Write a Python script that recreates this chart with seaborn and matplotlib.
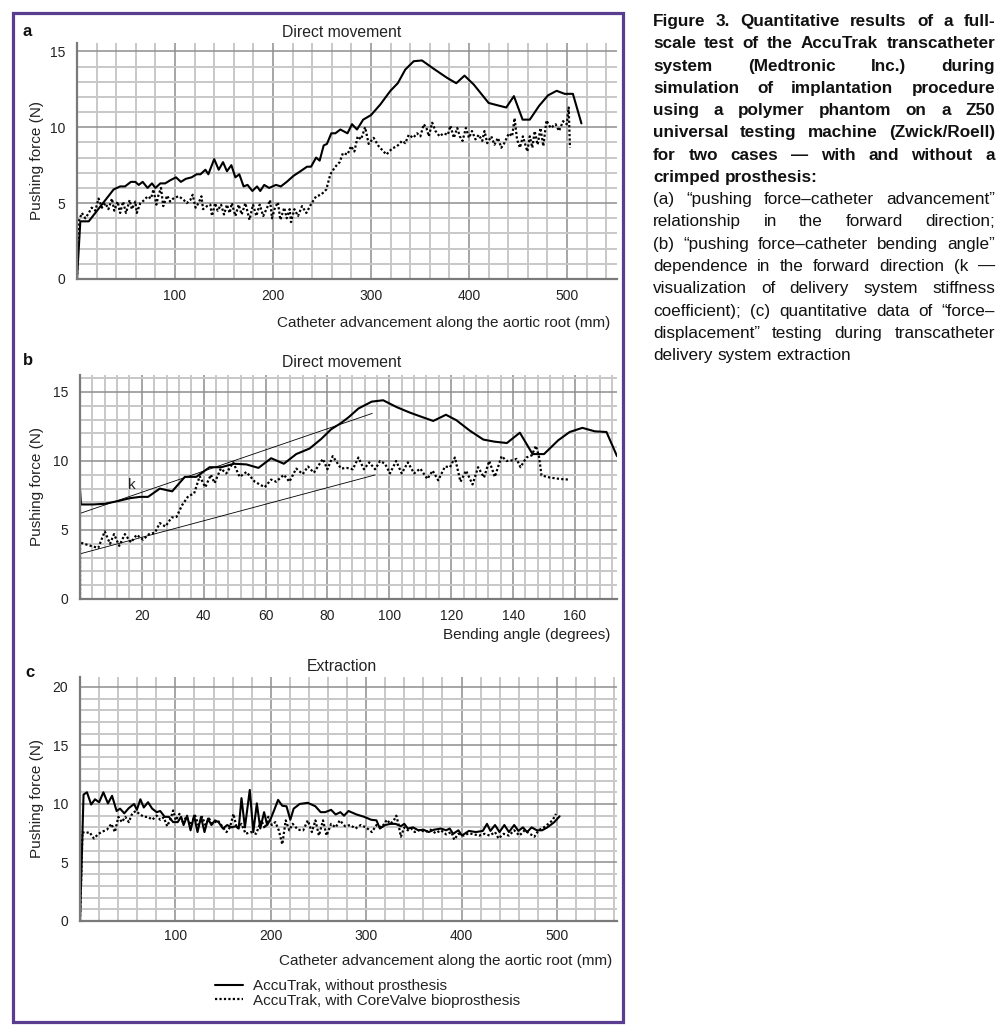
import matplotlib
matplotlib.use('Agg')
import matplotlib.pyplot as plt
import seaborn as sns
from matplotlib.ticker import MultipleLocator, FixedLocator
from matplotlib.patches import Rectangle

# ---------------- data ----------------
# Panel a: pushing force vs catheter advancement (forward)
a_solid_x = [0, 3.4, 12, 37.4, 44, 49, 55, 59.5, 63, 67, 72, 76.5, 80, 85, 90, 95, 101, 106, 111, 117,
             122, 126, 131, 134, 140, 144.6, 149, 153, 157.5, 161.6, 165.6, 170, 174, 178.9, 183.7, 187, 191, 196, 203, 208,
             214, 221, 228, 234.7, 238.8, 244, 247.6, 251.7, 255, 259.5, 263.6, 268.7, 276, 280.6, 285.7, 292, 300, 309.5, 319.8, 327.3,
             335, 343.6, 352, 364, 377.7, 387, 395.4, 405, 420, 428.8, 438, 445.8, 454.7, 462, 471.4, 480.6, 489.4, 497.6, 506, 514.7]
a_solid_y = [0, 3.8, 3.8, 5.9, 6.1, 6.1, 6.4, 6.4, 6.2, 6.4, 6.0, 6.3, 6.0, 6.3, 6.3, 6.5, 6.7, 6.4, 6.6, 6.7,
             6.9, 6.9, 7.2, 6.9, 7.9, 7.2, 7.7, 7.1, 7.5, 6.7, 6.9, 6.1, 6.2, 5.8, 6.1, 5.8, 6.2, 6.0, 6.2, 6.1,
             6.4, 6.8, 7.1, 7.4, 7.4, 8.0, 7.8, 8.8, 8.9, 9.6, 9.6, 9.85, 9.6, 10.2, 9.85, 10.5, 10.8, 11.5, 12.4, 12.9,
             13.8, 14.35, 14.4, 13.85, 13.25, 12.9, 13.4, 12.8, 11.6, 11.45, 11.3, 12.05, 10.5, 10.5, 11.4, 12.1, 12.4, 12.2, 12.2, 10.25]

a_dot_x = [0, 1.7, 5, 8.5, 12, 15, 18.7, 22, 25.5, 29, 32, 35.7, 38, 41.5, 44, 47, 50, 53.7, 56, 59.5,
           61, 64.6, 68.7, 72, 75.5, 78, 81, 83, 85.7, 88, 92, 95, 99, 104, 109, 112, 115.6, 118, 121, 124,
           127, 128.6, 132.6, 136, 137.8, 141, 143.5, 147, 150, 153, 155.8, 158, 161.6, 165, 168, 171.8, 176, 179.6, 183, 186.4,
           190, 194, 197, 199, 202, 205, 207.5, 211.5, 214, 217, 218.4, 221.8, 225.5, 229.6, 234, 239, 244, 249, 254.4, 258.5,
           263.6, 268, 271.4, 276, 279.6, 283, 286.4, 289.8, 294, 297.6, 302.7, 307.8, 315.7, 321.5, 326.6, 331.7, 335, 338.5, 343, 347,
           350.4, 353.8, 356.6, 359, 362.4, 365.8, 370, 374, 378.4, 381, 384.5, 388, 390.6, 393.4, 396.8, 400, 403, 406.6, 410, 413.5,
           415.8, 418.6, 422.7, 426, 429.5, 432.9, 436, 440.7, 444, 446.5, 449, 452, 455, 457.7, 459.5, 462, 464.6, 467, 470, 473,
           475.8, 479, 483.3, 488.4, 491.8, 496, 499.7, 501.7, 503]
a_dot_y = [0, 3.8, 4.35, 4.0, 4.35, 4.7, 4.5, 5.3, 4.7, 5.0, 4.6, 5.3, 4.5, 5.1, 4.35, 5.1, 4.35, 5.2, 4.6, 5.1,
           4.35, 5.0, 5.2, 5.45, 5.3, 5.9, 4.9, 5.5, 6.0, 4.8, 5.5, 5.1, 5.35, 5.45, 5.2, 5.0, 5.2, 5.55, 4.7, 5.0,
           5.45, 4.6, 4.8, 4.9, 4.15, 5.0, 4.5, 4.9, 4.25, 4.9, 4.35, 5.0, 4.15, 4.9, 4.25, 5.0, 3.9, 4.9, 4.15, 4.9,
           4.15, 4.7, 5.2, 4.0, 4.7, 5.05, 3.9, 4.7, 4.0, 4.6, 3.75, 4.6, 4.15, 4.8, 4.35, 4.95, 5.45, 5.55, 5.9, 6.9,
           7.4, 7.7, 8.3, 8.2, 8.75, 8.4, 9.4, 9.2, 10.0, 8.9, 9.3, 8.75, 8.2, 8.6, 8.75, 9.1, 8.95, 9.5, 9.3, 9.6,
           9.4, 10.2, 9.95, 9.4, 10.3, 9.75, 9.4, 9.6, 9.5, 10.1, 9.3, 9.95, 9.4, 9.1, 9.95, 9.3, 9.75, 9.2, 9.5, 9.1,
           9.75, 8.95, 9.4, 8.85, 9.3, 8.65, 8.95, 9.6, 9.4, 10.6, 9.2, 8.65, 9.4, 8.8, 8.4, 9.4, 8.65, 9.75, 8.85, 9.95,
           8.75, 10.45, 9.95, 10.2, 9.75, 10.4, 10.2, 11.3, 8.65]

# Panel b: pushing force vs bending angle
b_solid_x = [0, 0, 0.3, 4.3, 8, 12.4, 16, 19.4, 22, 25.8, 29.8, 33.9, 37.6, 41.9, 45.7, 49.8, 53.8, 57.7, 61.8, 65.9,
             69.9, 74.2, 78, 81.2, 84.4, 87, 90, 94.3, 98, 102.4, 106.7, 110.4, 114.2, 118.3, 121.7, 126, 130.4, 134, 138, 142.2,
             146.3, 150, 154.6, 158.3, 162.4, 166.4, 170.2, 173.6]
b_solid_y = [0, 7.9, 6.85, 6.85, 6.9, 7.1, 7.3, 7.4, 7.4, 8.0, 7.8, 8.85, 8.85, 9.55, 9.55, 9.8, 9.75, 9.5, 10.2, 9.8,
             10.5, 10.9, 11.6, 12.3, 12.75, 13.2, 13.8, 14.3, 14.4, 13.9, 13.5, 13.2, 12.9, 13.35, 12.95, 12.2, 11.55, 11.4, 11.3, 12.05,
             10.5, 10.5, 11.5, 12.1, 12.4, 12.15, 12.1, 10.35]

b_dot_x = [0, 0, 2.7, 5.9, 8, 9.7, 11, 12.7, 14.5, 16.5, 18.3, 20.4, 22.3, 24.2, 25.8, 27.6, 29.6, 31.2, 33, 35,
           36.9, 38.7, 40.5, 42.3, 43.5, 45.5, 47.3, 49.5, 51.6, 53.8, 56.5, 59.7, 61.8, 63.4, 65.9, 67.7, 69.9, 72, 73.7, 75.6,
           78.5, 80, 81.7, 84.4, 86.2, 88.2, 90, 91.8, 93.5, 95.4, 97, 98.6, 100.2, 102.2, 104, 106, 108, 110, 112.3, 114,
           115.8, 118, 119.6, 121.2, 123, 124.8, 126.9, 128.7, 130.6, 132.3, 134.1, 136.3, 137.9, 140, 141.1, 142.4, 144.3, 146, 147.4, 148.4,
           149.2, 151.9, 155.1, 158.1]
b_dot_y = [0, 4.1, 3.9, 3.7, 4.9, 4.0, 4.7, 3.85, 4.7, 4.1, 4.65, 4.3, 4.7, 4.8, 5.5, 5.25, 5.9, 5.95, 6.8, 7.45,
           7.65, 8.9, 8.1, 9.0, 8.4, 9.45, 9.1, 9.9, 8.85, 9.2, 8.5, 8.1, 8.65, 8.5, 9.0, 8.5, 9.45, 9.05, 9.6, 9.15,
           10.15, 9.4, 10.35, 9.45, 9.5, 9.4, 10.25, 9.4, 9.9, 9.4, 10.0, 9.8, 9.1, 10.0, 9.1, 9.9, 9.1, 9.45, 8.7, 9.3,
           8.6, 9.6, 9.55, 10.25, 8.5, 9.3, 8.3, 9.55, 8.8, 10.0, 8.85, 10.35, 10.0, 10.05, 10.15, 9.55, 10.25, 10.4, 11.1, 10.3,
           8.95, 8.8, 8.7, 8.65]

# stiffness-coefficient guide lines (k)
k_upper_x = [0, 94.5]
k_upper_y = [6.2, 13.45]
k_lower_x = [0, 95.4]
k_lower_y = [3.27, 8.99]

# Panel c: extraction
c_solid_x = [0, 3.7, 7.3, 11.7, 15.7, 20.1, 24.5, 29.3, 33.6, 38.4, 42, 46.4, 51.2, 56.7, 59.6, 63.3, 66.9, 71.3, 75.7, 80.4,
             84.1, 88.8, 93.2, 97.6, 102.4, 106, 108.6, 112.3, 115.9, 119.6, 123.2, 126.9, 130.5, 134.2, 137.8, 141.5, 145.2, 149.9, 154.3, 159,
             163.4, 166.4, 169.3, 172.9, 178, 181.7, 185.4, 189, 193, 196.3, 200, 203.7, 207.7, 212, 216.5, 220.5, 224, 230.3, 238.8, 246.8,
             252.3, 257, 263.3, 268, 273, 276.8, 281.5, 290, 298, 305.3, 310.8, 314.4, 320, 325.4, 330.9, 336.4, 340, 343.7, 349.2, 354.7,
             360.1, 365.6, 371.1, 378.4, 383.9, 387.6, 391.2, 396.7, 400.4, 407.7, 415, 422.3, 426.7, 430.3, 435.1, 439.8, 444.9, 449.7, 455.2, 459.6,
             464.4, 468.7, 473.5, 479, 484.5, 490, 497.3, 502.8]
c_solid_y = [0, 10.8, 11.0, 9.95, 10.4, 10.15, 11.0, 10.05, 10.7, 9.4, 9.6, 9.2, 9.65, 10.0, 9.5, 10.4, 9.7, 10.15, 9.6, 9.3,
             9.4, 8.9, 8.9, 8.45, 8.45, 8.9, 8.2, 9.0, 7.75, 9.0, 7.6, 8.9, 7.6, 8.75, 8.2, 8.6, 8.45, 7.9, 8.2, 8.0,
             8.1, 7.9, 10.5, 8.0, 11.2, 7.6, 10.05, 7.9, 9.3, 8.2, 8.75, 9.5, 10.35, 9.85, 9.8, 8.65, 9.6, 10.0, 10.1, 9.8,
             9.3, 9.3, 9.5, 9.1, 9.3, 9.0, 9.4, 9.1, 8.9, 8.65, 8.6, 7.9, 8.2, 8.3, 8.3, 8.1, 8.3, 7.9, 8.0, 7.75,
             7.8, 7.6, 7.8, 7.9, 7.75, 7.9, 7.45, 7.75, 7.3, 7.7, 7.6, 7.7, 8.3, 7.7, 8.2, 7.6, 8.2, 7.6, 8.2, 7.7,
             8.0, 7.6, 8.0, 7.75, 7.75, 8.0, 8.45, 8.95]

c_dot_x = [0, 2.6, 5.5, 9.9, 14.6, 19.4, 23.8, 28.2, 32.9, 36.6, 40.2, 43.9, 47.5, 51.2, 54.8, 58.5, 62.2, 66.9, 71.3, 75.7,
           80.4, 84.1, 87.8, 91.4, 95.1, 97.6, 100.5, 104.2, 107.9, 111.5, 115.9, 120.7, 124.3, 128, 131.6, 135.3, 138.9, 144.4, 149.9, 153.6,
           157.2, 160.9, 164.5, 169.3, 173.7, 179.2, 184.6, 190.1, 193.8, 197.4, 201.1, 204.8, 208.4, 212.1, 215.7, 219.4, 223, 228.5, 234, 238.8,
           243.1, 246.8, 250.5, 254.8, 258.5, 263.3, 268, 272.4, 277.9, 283.4, 288.8, 294.3, 299.8, 306, 310.8, 316.3, 321.8, 325.4, 329.1, 331.6,
           333.8, 336.4, 340, 343.7, 347.3, 351, 356.5, 362, 367.5, 372.9, 378.4, 383.9, 389.4, 392.3, 396.7, 402.2, 407.7, 413.2, 418.6, 424.1,
           429.6, 435.1, 438.8, 444.2, 449.7, 455.2, 460.7, 466.2, 471.6, 476.4, 480.8, 486.3, 491, 495.4, 499]
c_dot_y = [0, 7.6, 7.5, 7.6, 7.05, 7.45, 7.65, 7.8, 8.3, 7.6, 8.9, 8.45, 8.9, 8.45, 9.2, 9.4, 9.15, 8.9, 8.9, 8.65,
           9.0, 8.65, 8.85, 8.1, 8.75, 9.45, 8.6, 9.15, 8.45, 8.9, 8.2, 9.0, 8.2, 8.9, 8.2, 8.75, 8.3, 8.6, 8.0, 7.6,
           8.0, 9.15, 7.9, 8.3, 7.45, 7.6, 7.45, 8.6, 7.9, 8.9, 8.2, 8.45, 7.75, 6.55, 8.6, 7.75, 8.3, 7.8, 7.75, 8.6,
           7.6, 8.6, 7.3, 8.6, 7.3, 8.3, 8.0, 8.6, 8.1, 8.2, 7.9, 8.2, 8.0, 7.6, 8.2, 8.0, 8.65, 8.3, 8.6, 9.0,
           8.3, 7.2, 8.0, 7.75, 7.9, 7.6, 7.8, 7.6, 7.8, 7.5, 7.75, 7.4, 7.6, 6.95, 7.45, 7.3, 7.5, 7.4, 7.3, 7.45,
           7.3, 7.6, 7.05, 7.45, 7.3, 7.75, 7.3, 7.75, 7.45, 7.2, 7.75, 8.0, 8.3, 8.6, 9.15]

legend_labels = ["AccuTrak, without prosthesis", "AccuTrak, with CoreValve bioprosthesis"]

caption_bold = [
    "Figure 3. Quantitative results of a full-",
    "scale test of the AccuTrak transcatheter",
    "system (Medtronic Inc.) during",
    "simulation of implantation procedure",
    "using a polymer phantom on a Z50",
    "universal testing machine (Zwick/Roell)",
    "for two cases \u2014 with and without a",
    "crimped prosthesis:",
]
caption_normal = [
    "(a) \u201cpushing force\u2013catheter advancement\u201d",
    "relationship in the forward direction;",
    "(b) \u201cpushing force\u2013catheter bending angle\u201d",
    "dependence in the forward direction (k \u2014",
    "visualization of delivery system stiffness",
    "coefficient); (c) quantitative data of \u201cforce\u2013",
    "displacement\u201d testing during transcatheter",
    "delivery system extraction",
]

# ---------------- figure ----------------
sns.set_style('white')
plt.rcParams['font.family'] = ['Liberation Sans', 'DejaVu Sans']

W, H = 1004, 1033
fig = plt.figure(figsize=(W / 100, H / 100), dpi=100)
TXT = '#222222'


def ax_at(l, t, r, b):
    ax = fig.add_axes([l / W, 1 - b / H, (r - l) / W, (b - t) / H])
    ax._px = (l, t, r, b)
    return ax


def style(ax, xlim, ylim, xmaj, xminstep, ymaj, xpad):
    ax.set_xlim(*xlim)
    ax.set_ylim(*ylim)
    ax.xaxis.set_major_locator(FixedLocator(xmaj))
    ax.xaxis.set_minor_locator(MultipleLocator(xminstep))
    ax.yaxis.set_major_locator(FixedLocator(ymaj))
    ax.yaxis.set_minor_locator(MultipleLocator(1))
    ax.grid(True, which='minor', color='#c8c8c8', lw=1.4)
    ax.grid(True, which='major', color='#8e8e8e', lw=1.1)
    ax.set_axisbelow(True)
    for s in ['top', 'right']:
        ax.spines[s].set_visible(False)
    for s in ['left', 'bottom']:
        ax.spines[s].set_color('#7a7a7a')
        ax.spines[s].set_linewidth(1.6)
    ax.tick_params(which='both', length=0, labelsize=10, labelcolor=TXT)
    ax.tick_params(axis='y', pad=8.5)
    ax.tick_params(axis='x', pad=xpad)


def labels(ax, xlabel, xl_right_px, xl_base_px):
    l, t, r, b = ax._px
    ax.set_xlabel(xlabel, fontsize=11, color=TXT, ha='right', va='baseline')
    ax.xaxis.set_label_coords((xl_right_px - l) / (r - l), (b - xl_base_px) / (b - t))
    ax.set_ylabel('Pushing force (N)', fontsize=11, color=TXT, va='center')
    ax.yaxis.set_label_coords((37 - l) / (r - l), 0.5)


def draw(ax, sx, sy, dx, dy, lab=(None, None)):
    sns.lineplot(x=sx, y=sy, ax=ax, color='black', lw=1.5, sort=False, estimator=None, label=lab[0])
    sns.lineplot(x=dx, y=dy, ax=ax, color='black', lw=1.6, linestyle=(0, (1, 1)),
                 sort=False, estimator=None, label=lab[1])


# panel a
axA = ax_at(77, 43, 617, 279)
draw(axA, a_solid_x, a_solid_y, a_dot_x, a_dot_y)
style(axA, (0, 551), (0, 15.55), [100, 200, 300, 400, 500], 20, [0, 5, 10, 15], 7)
labels(axA, 'Catheter advancement along the aortic root (mm)', 610, 327)

# panel b
axB = ax_at(80, 375, 617, 599)
draw(axB, b_solid_x, b_solid_y, b_dot_x, b_dot_y)
sns.lineplot(x=k_upper_x, y=k_upper_y, ax=axB, color='black', lw=0.6, sort=False, estimator=None)
sns.lineplot(x=k_lower_x, y=k_lower_y, ax=axB, color='black', lw=0.6, sort=False, estimator=None)
axB.text(16.8, 8.26, 'k', fontsize=11, color=TXT, ha='center', va='center')
style(axB, (0, 173.6), (0, 16.23), [20, 40, 60, 80, 100, 120, 140, 160], 4, [0, 5, 10, 15], 7)
labels(axB, 'Bending angle (degrees)', 610, 639)

# panel c
axC = ax_at(80, 677, 617, 921)
draw(axC, c_solid_x, c_solid_y, c_dot_x, c_dot_y, lab=legend_labels)
style(axC, (0, 563), (0, 20.85), [100, 200, 300, 400, 500], 20, [0, 5, 10, 15, 20], 6)
labels(axC, 'Catheter advancement along the aortic root (mm)', 612, 965)
leg = axC.legend(loc='upper left', bbox_to_anchor=(215 / W, 1 - 979 / H), bbox_transform=fig.transFigure,
                 frameon=False, fontsize=11, handlelength=1.85, handletextpad=0.65, labelspacing=0.05,
                 borderpad=0, borderaxespad=0)
for t in leg.get_texts():
    t.set_color(TXT)

# titles and panel letters
for txt, yb in [('Direct movement', 37), ('Direct movement', 367), ('Extraction', 671)]:
    fig.text(342 / W, 1 - yb / H, txt, ha='center', va='baseline', fontsize=11.3, color=TXT)
for txt, xl, yb in [('a', 23, 36), ('b', 23, 365), ('c', 25, 677)]:
    fig.text(xl / W, 1 - yb / H, txt, ha='left', va='baseline', fontsize=12, fontweight='bold', color='#111111')

# frame
fig.patches.append(Rectangle((13 / W, 1 - 1022 / H), 610 / W, 1009 / H, transform=fig.transFigure,
                             fill=False, ec='#5b3d8f', lw=2.3))

# caption (justified)
renderer = fig.canvas.get_renderer()
X0, X1 = 653, 995
FS = 12.3


def put_line(line, yb, weight, justify):
    words = line.split(' ')
    objs = [fig.text(0, 1 - yb / H, w, fontsize=FS, fontweight=weight, color='#111111',
                     ha='left', va='baseline') for w in words]
    widths = [o.get_window_extent(renderer).width for o in objs]
    space = FS * 100 / 72 * 0.278
    if justify and len(words) > 1:
        gap = max((X1 - X0 - sum(widths)) / (len(words) - 1), 2)
    else:
        gap = space
    x = X0
    for o, w in zip(objs, widths):
        o.set_x(x / W)
        x += w + gap


all_lines = [(l, 'bold', i < len(caption_bold) - 1) for i, l in enumerate(caption_bold)] + \
            [(l, 'normal', i < len(caption_normal) - 1) for i, l in enumerate(caption_normal)]
for i, (line, wgt, just) in enumerate(all_lines):
    put_line(line, 26 + 22.27 * i, wgt, just)

fig.savefig('out.png', dpi=100)
